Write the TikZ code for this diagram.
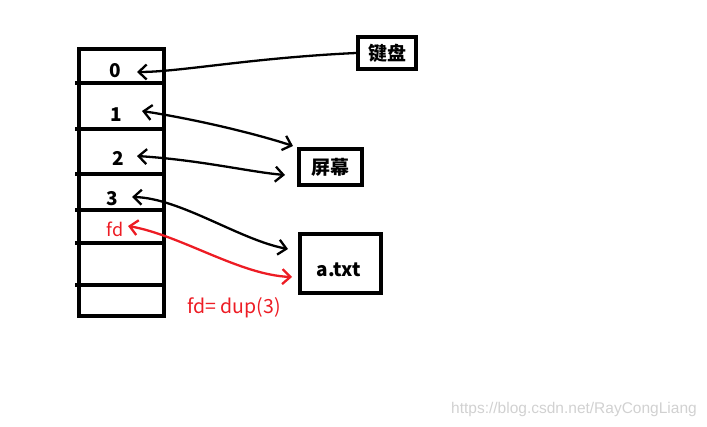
\documentclass[tikz,border=0pt]{standalone}
\usepackage{fontspec}
\setmainfont{Noto Sans CJK SC}
\newfontfamily\wmfont{Liberation Sans}
\usetikzlibrary{arrows.meta}
\definecolor{penred}{RGB}{237,28,36}
\begin{document}
\begin{tikzpicture}[x=1pt,y=-1pt,
  stackline/.style={line width=4pt},
  lbl/.style={font=\fontsize{19}{19}\selectfont\bfseries, inner sep=0pt},
  dev/.style={draw, line width=4pt, inner sep=0pt, font=\fontsize{19}{19}\selectfont\bfseries},
  link/.style={line width=2.3pt, {Straight Barb[length=8pt,width=15pt]}-{Straight Barb[length=8pt,width=15pt]}},
  inlink/.style={line width=2.3pt, {Straight Barb[length=8pt,width=15pt]}-},
]
\useasboundingbox (0,0) rectangle (707,427);
% stack
\draw[stackline] (79,49) rectangle (164,316);
\foreach \yy in {83,129,174,210,243,285}{
  \draw[stackline] (75,\yy) -- (166,\yy);
}
% labels
\node[lbl] (l0) at (115,71) {0};
\node[lbl] (l1) at (116,115) {1};
\node[lbl] (l2) at (118,158) {2};
\node[lbl] (l3) at (112,199) {3};
\node[inner sep=0pt, text=penred, font=\fontsize{18}{18}\selectfont] (lfd) at (115,229) {fd};
% devices
\node[dev, minimum width=58pt, minimum height=32pt] (kb) at (387,53) {\raisebox{-4pt}{键盘}};
\node[dev, minimum width=63pt, minimum height=36pt] (scr) at (330.5,167) {屏幕};
\node[dev, minimum width=81pt, minimum height=59pt] (file) at (340.5,263.5) {};
\node[inner sep=0pt, font=\fontsize{19}{19}\selectfont\bfseries] (ftxt) at (339,270) {a.txt};
% anchor coordinates
\coordinate (a0) at (137,72);
\coordinate (a1) at (142,111);
\coordinate (a2) at (137,156);
\coordinate (a3) at (132,197);
\coordinate (afd) at (128,226);
\coordinate (s1) at (293,146);
\coordinate (s2) at (285,175);
\coordinate (f3) at (288,249);
\coordinate (ffd) at (292,277);
% connectors
\draw[inlink] (a0) .. controls (180,72) and (250,58) .. (kb.west);
\draw[link] (a1) .. controls (200,120) and (260,135) .. (s1);
\draw[link] (a2) .. controls (200,160) and (250,172) .. (s2);
\draw[link] (a3) .. controls (180,198) and (240,240) .. (f3);
\draw[link, penred] (afd) .. controls (180,235) and (240,275) .. (ffd);
% captions
\node[inner sep=0pt, text=penred, font=\fontsize{19.5}{19.5}\selectfont] (cap) at (234,308) {fd= dup(3)};
\node[inner sep=0pt, text=black!18, font=\wmfont\fontsize{15.5}{15.5}\selectfont] (wm) at (574,409) {https://blog.csdn.net/RayCongLiang};
\end{tikzpicture}
\end{document}
